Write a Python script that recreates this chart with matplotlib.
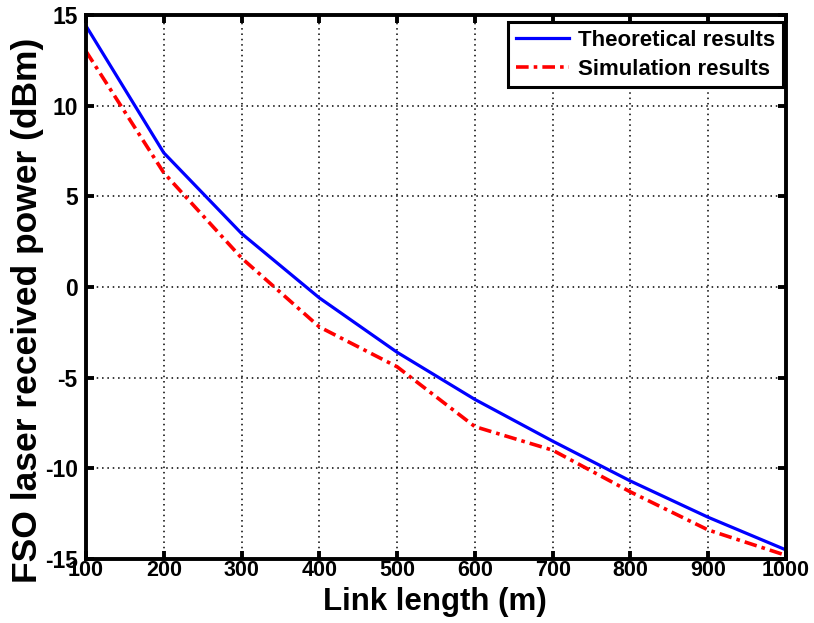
import matplotlib
matplotlib.use("Agg")
import matplotlib.pyplot as plt

plt.rcParams['font.family'] = ['Liberation Sans', 'DejaVu Sans']
plt.rcParams['font.weight'] = 'bold'

link_length = [100, 200, 300, 400, 500, 600, 700, 800, 900, 1000]
theoretical = [14.4, 7.4, 2.95, -0.6, -3.6, -6.2, -8.5, -10.7, -12.7, -14.5]
simulation = [13.0, 6.3, 1.6, -2.2, -4.4, -7.7, -9.0, -11.3, -13.4, -14.8]
x_ticks = [100, 200, 300, 400, 500, 600, 700, 800, 900, 1000]
y_ticks = [-15, -10, -5, 0, 5, 10, 15]

fig = plt.figure(figsize=(8.14, 6.23), dpi=100)
ax = fig.add_axes([86 / 814, 1 - 559 / 623, 700 / 814, 544 / 623])

ax.plot(link_length, theoretical, color='#0000ff', lw=2.3, label='Theoretical results')
ax.plot(link_length, simulation, color='#ff0000', lw=2.6, linestyle=(0, (3.5, 1.4, 1.0, 1.4)),
        label='Simulation results')

ax.set_xlim(100, 1000)
ax.set_ylim(-15, 15)
ax.set_xticks(x_ticks)
ax.set_yticks(y_ticks)
ax.set_xticklabels([str(v) for v in x_ticks], fontsize=15.5, fontweight='bold')
ax.set_yticklabels([str(v) for v in y_ticks], fontsize=16.5, fontweight='bold')

ax.grid(True, color='black', linestyle=(0, (1, 2.5)), linewidth=1.1)
for s in ax.spines.values():
    s.set_linewidth(2.8)
ax.tick_params(direction='in', length=6, width=2.8, top=True, right=True)
ax.tick_params(axis='x', pad=1)
ax.tick_params(axis='y', pad=6)

ax.set_xlabel('Link length (m)', fontsize=22.5, fontweight='bold')
ax.set_ylabel('FSO laser received power (dBm)', fontsize=25.5, fontweight='bold')
ax.xaxis.set_label_coords((435 - 86) / 700, (559 - 602) / 544, transform=ax.transAxes)
ax.yaxis.set_label_coords((28 - 86) / 700, (559 - 310) / 544, transform=ax.transAxes)
ax.xaxis.label.set_va('center')
ax.yaxis.label.set_va('center')

leg = ax.legend(loc='upper right', bbox_to_anchor=(0.9957, 0.987), borderaxespad=0,
                fontsize=16, frameon=True, fancybox=False,
                handlelength=2.4, borderpad=0.35, labelspacing=0.35, handletextpad=0.4)
leg.get_frame().set_edgecolor('black')
leg.get_frame().set_linewidth(2.2)
leg.get_frame().set_alpha(1)
for t in leg.get_texts():
    t.set_fontweight('bold')

fig.savefig('out.png', dpi=100)
